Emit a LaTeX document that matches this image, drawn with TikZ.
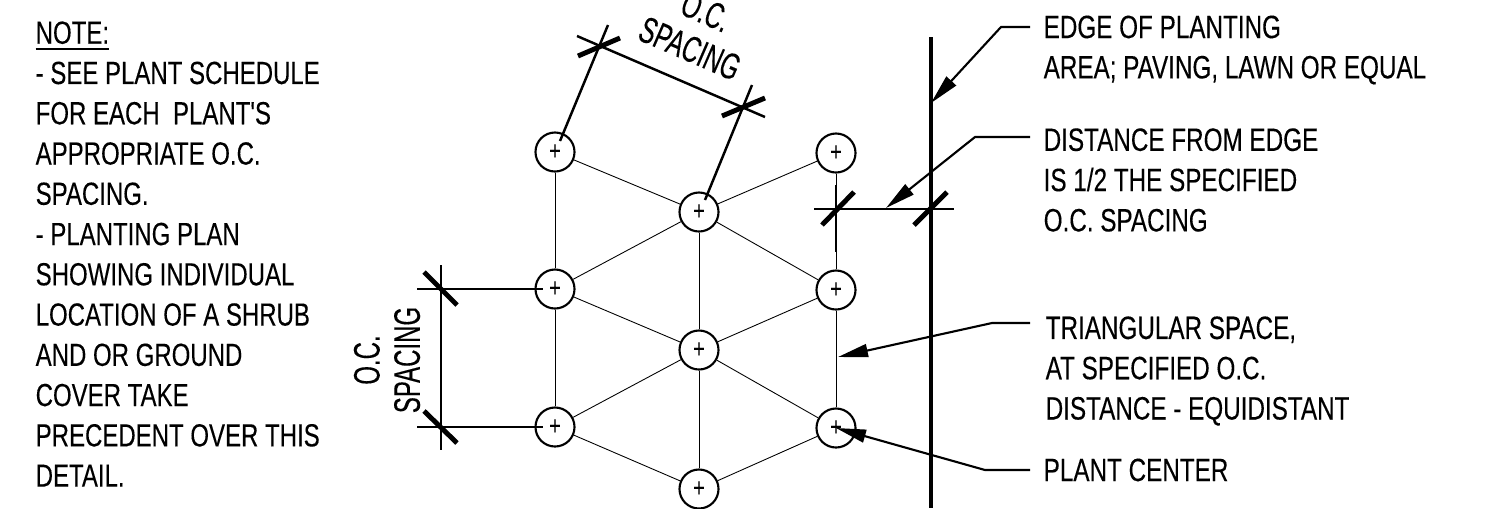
\documentclass[tikz,border=0pt]{standalone}
\usepackage{fontspec}
\setmainfont[FakeStretch=0.75, FakeBold=0.2, Ligatures=TeXOff]{Liberation Sans}
\newfontfamily\dimfont[FakeStretch=0.65, FakeBold=0.2]{Liberation Sans}
\usetikzlibrary{positioning, arrows.meta, calc}
\newcommand{\plantmark}{\raisebox{-0.4pt}{+}}
\tikzset{
    plant/.style={circle, draw, line width=0.6pt, fill=white, minimum size=0.39cm, inner sep=0pt, font=\fontsize{7.5}{8}\selectfont},
    gridline/.style={line width=0.25pt},
    dimline/.style={line width=0.7pt},
    tickline/.style={line width=1.4pt},
    leader/.style={line width=0.6pt, -{Triangle[length=0.3cm, width=0.13cm]}},
    label/.style={anchor=west, align=left, inner sep=0pt, font=\fontsize{9.1}{11.45}\selectfont},
    sidelabel/.style={label, font=\fontsize{9.2}{11.45}\selectfont},
    dimlabel/.style={align=center, inner sep=0pt, font=\dimfont\fontsize{10.5}{11.45}\selectfont}
}

\begin{document}
\begin{tikzpicture}[x=0.01cm, y=-0.01cm]
    \useasboundingbox (0, 0) rectangle (1487, 508);

    % === NOTE ===
    \node[label] (note) at (35, 254) {\underline{NOTE:}\\
        - SEE PLANT SCHEDULE\\
        FOR EACH \ PLANT'S\\
        APPROPRIATE O.C.\\
        SPACING.\\
        - PLANTING PLAN\\
        SHOWING INDIVIDUAL\\
        LOCATION OF A SHRUB\\
        AND OR GROUND\\
        COVER TAKE\\
        PRECEDENT OVER THIS\\
        DETAIL.};

    % === PLANTS ===
    \node[plant] (pa) at (555, 152) {\plantmark};
    \node[plant] (pb) at (555, 289) {\plantmark};
    \node[plant] (pc) at (555, 427) {\plantmark};
    \node[plant] (pd) at (699, 212) {\plantmark};
    \node[plant] (pe) at (699, 350) {\plantmark};
    \node[plant] (pf) at (699, 489) {\plantmark};
    \node[plant] (pg) at (836, 153) {\plantmark};
    \node[plant] (ph) at (836, 290) {\plantmark};
    \node[plant] (pi) at (836, 428) {\plantmark};

    % triangular grid
    \foreach \from/\to in {pa/pb, pb/pc, pd/pe, pe/pf, pg/ph, ph/pi,
        pa/pd, pg/pd, pb/pd, ph/pd, pb/pe, ph/pe, pc/pe, pi/pe, pc/pf, pi/pf}
        \draw[gridline] (\from) -- (\to);

    % === TOP DIMENSION ===
    \coordinate (topa) at (599, 45);
    \coordinate (topb) at (743, 107);
    \coordinate (topc) at (577, 36);
    \coordinate (topd) at (765, 117);
    \coordinate (tope) at (608, 25);
    \coordinate (topf) at (752, 85);
    \coordinate (topg) at (560, 141);
    \coordinate (toph) at (705, 200);
    \draw[dimline] (topc) -- (topd);
    \draw[dimline] (topg) -- (tope);
    \draw[dimline] (toph) -- (topf);
    \coordinate (ticka) at (578, 56);
    \coordinate (tickb) at (620, 38);
    \coordinate (tickc) at (722, 116);
    \coordinate (tickd) at (765, 98);
    \draw[tickline] (ticka) -- (tickb);
    \draw[tickline] (tickc) -- (tickd);
    \node[dimlabel, rotate=-23.5] (toplabel) at (698, 30) {O.C.\\SPACING};

    % === LEFT DIMENSION ===
    \coordinate (lefta) at (441, 265);
    \coordinate (leftb) at (441, 450);
    \coordinate (leftc) at (417, 289);
    \coordinate (leftd) at (543, 289);
    \coordinate (lefte) at (417, 427);
    \coordinate (leftf) at (543, 427);
    \draw[dimline] (lefta) -- (leftb);
    \draw[dimline] (leftc) -- (leftd);
    \draw[dimline] (lefte) -- (leftf);
    \coordinate (ticke) at (424, 272);
    \coordinate (tickf) at (457, 305);
    \coordinate (tickg) at (424, 411);
    \coordinate (tickh) at (457, 443);
    \draw[tickline] (ticke) -- (tickf);
    \draw[tickline] (tickg) -- (tickh);
    \node[dimlabel, rotate=90] (leftlabel) at (387, 360) {O.C.\\SPACING};

    % === EDGE ===
    \coordinate (edgea) at (931, 37);
    \coordinate (edgeb) at (931, 508);
    \draw[line width=0.9pt] (edgea) -- (edgeb);

    % === RIGHT DIMENSION ===
    \coordinate (righta) at (814, 209);
    \coordinate (rightb) at (954, 209);
    \coordinate (rightc) at (836, 185);
    \coordinate (rightd) at (836, 252);
    \draw[dimline] (righta) -- (rightb);
    \draw[dimline] (rightc) -- (rightd);
    \coordinate (ticki) at (822, 225);
    \coordinate (tickj) at (854, 192);
    \coordinate (tickk) at (914, 225);
    \coordinate (tickl) at (947, 192);
    \draw[tickline] (ticki) -- (tickj);
    \draw[tickline] (tickk) -- (tickl);

    % === LABELS ===
    \node[sidelabel] (edge) at (1043, 50) {EDGE OF PLANTING\\AREA; PAVING, LAWN OR EQUAL};
    \node[sidelabel] (dist) at (1043, 180) {DISTANCE FROM EDGE\\IS 1/2 THE SPECIFIED\\O.C. SPACING};
    \node[sidelabel] (tri) at (1045, 371) {TRIANGULAR SPACE,\\AT SPECIFIED O.C.\\DISTANCE - EQUIDISTANT};
    \node[sidelabel] (center) at (1043, 470) {PLANT CENTER};

    % leaders
    \coordinate (edgea1) at (1030, 27);
    \coordinate (edgea2) at (1001, 27);
    \coordinate (edgetip) at (931, 103);
    \draw[leader] (edgea1) -- (edgea2) -- (edgetip);
    \coordinate (dista1) at (1030, 137);
    \coordinate (dista2) at (975, 137);
    \coordinate (disttip) at (886, 208);
    \draw[leader] (dista1) -- (dista2) -- (disttip);
    \coordinate (tria1) at (1030, 323);
    \coordinate (tria2) at (992, 323);
    \coordinate (tritip) at (838, 357);
    \draw[leader] (tria1) -- (tria2) -- (tritip);
    \coordinate (centera1) at (1030, 470);
    \coordinate (centera2) at (985, 470);
    \draw[leader] (centera1) -- (centera2) -- (pi.center);
\end{tikzpicture}
\end{document}
